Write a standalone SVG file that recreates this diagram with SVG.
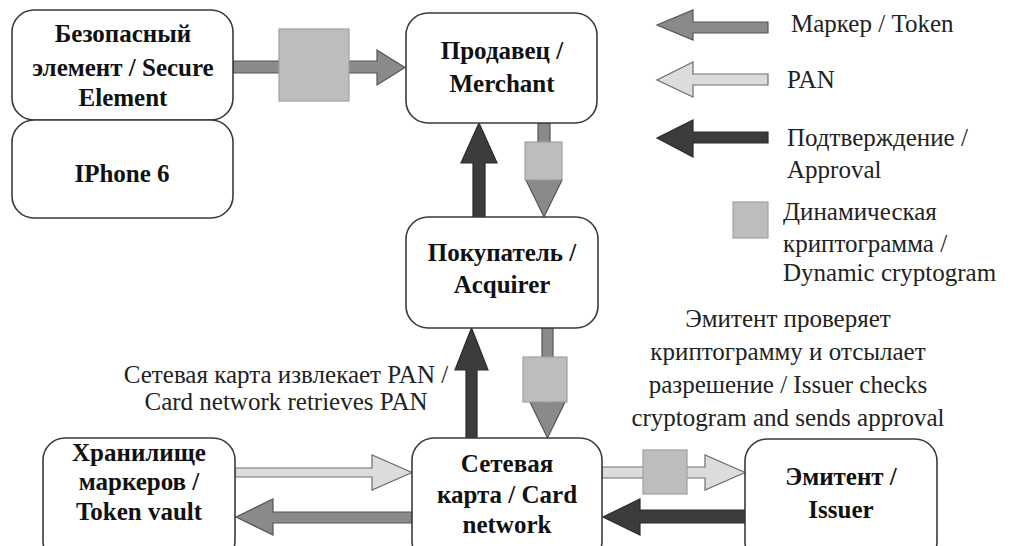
<svg xmlns="http://www.w3.org/2000/svg" width="1013" height="546" viewBox="0 0 1013 546">
<style>
text{font-family:'Liberation Serif','Times New Roman','DejaVu Serif',serif}
.box{fill:#fff;stroke:#3a3a3a;stroke-width:1.6}
.nt{font-weight:bold;font-size:25px;fill:#111;text-anchor:middle}
.tx{font-size:25px;fill:#222}
.tok{fill:#8a8a8a;stroke:#555;stroke-width:1.2}
.pan{fill:#dcdcdc;stroke:#6e6e6e;stroke-width:1.2}
.apr{fill:#3c3c3c;stroke:#2a2a2a;stroke-width:1.2}
.sq{fill:#bdbdbd;stroke:#a0a0a0;stroke-width:1.2}
</style>
<rect width="1013" height="546" fill="#fff"/>
<g id="connectors">
<polygon class="tok" points="233,61 377,61 377,50 405,67.5 377,85 377,73 233,73"/>
<rect class="sq" x="279" y="29" width="70" height="72"/>
<polygon class="apr" points="473,217 473,163 461,163 479,123 497,163 485,163 485,217"/>
<polygon class="tok" points="538,123 550,123 550,180 562,180 544,217 526,180 538,180"/>
<rect class="sq" x="525" y="142" width="37" height="38"/>
<polygon class="apr" points="466,438 466,370 455,370 471.5,328 488,370 477,370 477,438"/>
<polygon class="tok" points="542,328 553,328 553,402 565,402 547.5,438 530,402 542,402"/>
<rect class="sq" x="523" y="357" width="44" height="45"/>
<polygon class="pan" points="235,468 372,468 372,455 412,472.5 372,490 372,477 235,477"/>
<polygon class="tok" points="412,512 273,512 273,499 236,517 273,535 273,523 412,523"/>
<polygon class="pan" points="602,467 705,467 705,455 745,472.5 705,490 705,478 602,478"/>
<rect class="sq" x="643" y="450" width="44" height="44"/>
<polygon class="apr" points="745,510 640,510 640,499 603,517 640,535 640,523 745,523"/>
</g>
<g id="se"><rect class="box" x="12" y="10" width="221" height="110" rx="22"/>
<text class="nt" x="123" y="42">Безопасный</text><text class="nt" x="123" y="76">элемент / Secure</text><text class="nt" x="123" y="106">Element</text></g>
<g id="iphone"><rect class="box" x="12" y="120" width="221" height="98" rx="22"/>
<text class="nt" x="122" y="182">IPhone 6</text></g>
<g id="merchant"><rect class="box" x="406" y="13" width="191" height="110" rx="22"/>
<text class="nt" x="502" y="59">Продавец /</text><text class="nt" x="502" y="92">Merchant</text></g>
<g id="acquirer"><rect class="box" x="406" y="217" width="192" height="111" rx="22"/>
<text class="nt" x="502" y="261">Покупатель /</text><text class="nt" x="502" y="293">Acquirer</text></g>
<g id="cardnetwork"><rect class="box" x="412" y="438" width="190" height="125" rx="22"/>
<text class="nt" x="507" y="472">Сетевая</text><text class="nt" x="507" y="503">карта / Card</text><text class="nt" x="507" y="533">network</text></g>
<g id="tokenvault"><rect class="box" x="43" y="438" width="192" height="125" rx="22"/>
<text class="nt" x="139" y="461">Хранилище</text><text class="nt" x="139" y="490">маркеров /</text><text class="nt" x="139" y="520">Token vault</text></g>
<g id="issuer"><rect class="box" x="745" y="439" width="192" height="125" rx="22"/>
<text class="nt" x="841" y="485">Эмитент /</text><text class="nt" x="841" y="518">Issuer</text></g>
<g id="annotations">
<text class="tx" text-anchor="middle" x="286" y="383">Сетевая карта извлекает PAN /</text>
<text class="tx" text-anchor="middle" x="286" y="410">Card network retrieves PAN</text>
<text class="tx" text-anchor="middle" x="788" y="327">Эмитент проверяет</text>
<text class="tx" text-anchor="middle" x="788" y="360">криптограмму и отсылает</text>
<text class="tx" text-anchor="middle" x="788" y="393">разрешение / Issuer checks</text>
<text class="tx" text-anchor="middle" x="788" y="426">cryptogram and sends approval</text>
</g>
<g id="legend">
<polygon class="tok" points="768,22 693,22 693,10 657,25 693,40 693,33 768,33"/>
<text class="tx" x="791" y="32">Маркер / Token</text>
<polygon class="pan" points="768,74 693,74 693,62 657,80 693,97 693,85 768,85"/>
<text class="tx" x="787" y="88">PAN</text>
<polygon class="apr" points="768,132 693,132 693,120 657,138 693,157 693,143 768,143"/>
<text class="tx" x="787" y="146">Подтверждение /</text>
<text class="tx" x="787" y="178">Approval</text>
<rect class="sq" x="733" y="202" width="35" height="36"/>
<text class="tx" x="783" y="220">Динамическая</text>
<text class="tx" x="783" y="252">криптограмма /</text>
<text class="tx" x="783" y="281">Dynamic cryptogram</text>
</g>
</svg>
